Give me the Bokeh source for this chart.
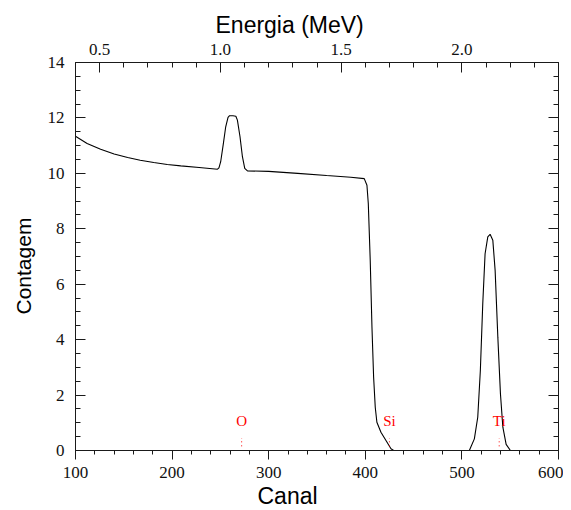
from bokeh.plotting import figure
from bokeh.models import (Range1d, LinearAxis, SingleIntervalTicker, PrintfTickFormatter,
                          CustomJSTickFormatter, Title, ColumnDataSource)
from bokeh.core.properties import value
from bokeh.embed import file_html
from bokeh.resources import INLINE

# ---- data ----
canal = [100, 112, 126, 140, 154, 167, 181, 195, 209, 228, 247, 248.5,
         250.3, 253.1, 255.5, 257.9, 259.5, 263, 266, 267.6, 270.3, 272.8, 275.2, 278,
         300, 330, 360, 385, 398.9, 401.7, 403.1, 405.1, 406.9, 408.6, 410.3, 412,
         416.2, 421.4, 426.6, 429.4, 507.7, 512.9, 516.4, 519.1, 521.6, 524, 526.8,
         529.2, 532, 534.4, 537.2, 539.9, 542.4, 545.8, 550.2, 600]
contagem = [11.34, 11.08, 10.87, 10.70, 10.57, 10.47, 10.39, 10.32, 10.27, 10.21, 10.15, 10.20,
            10.42, 11.08, 11.68, 12.02, 12.08, 12.08, 12.06, 11.92, 11.32, 10.60, 10.18, 10.09,
            10.07, 10.00, 9.92, 9.86, 9.81, 9.57, 8.91, 6.86, 4.45, 2.65, 1.56, 1.02,
            0.66, 0.36, 0.06, 0.0, 0.0, 0.42, 1.20, 2.89, 5.30, 7.10, 7.71,
            7.80, 7.59, 6.50, 4.09, 2.05, 0.84, 0.22, 0.0, 0.0]

elementos = ["O", "Si", "Ti"]
elem_canal = [272, 425, 538.6]
elem_label_y = [1.05, 1.05, 1.05]
elem_mark_y0 = [0.15, 0.15, 0.15]
elem_mark_y1 = [0.45, 0.45, 0.45]

x_start, x_end = 100, 600
y_start, y_end = 0, 14
e_start, e_end = 0.4, 2.4

p = figure(width=563, height=510, output_backend="svg", toolbar_location=None,
           x_range=Range1d(x_start, x_end), y_range=Range1d(y_start, y_end),
           min_border_left=75, min_border_right=5, min_border_top=62, min_border_bottom=60,
           x_axis_location=None, y_axis_location=None)
p.extra_x_ranges = {"energia": Range1d(e_start, e_end)}
p.xgrid.visible = False
p.ygrid.visible = False
p.outline_line_color = None
p.background_fill_color = "white"
p.border_fill_color = "white"

TICK_FONT = "Liberation Serif"
TICK_SIZE = "17px"
AX_COLOR = "#1a1a1a"

def style(ax, tin, tout, mtin, mtout, standoff):
    ax.major_tick_in = tin
    ax.major_tick_out = tout
    ax.minor_tick_in = mtin
    ax.minor_tick_out = mtout
    ax.major_label_standoff = standoff
    ax.major_label_text_font = TICK_FONT
    ax.major_label_text_font_size = TICK_SIZE
    ax.major_label_text_color = "#111111"
    ax.axis_line_color = AX_COLOR
    ax.major_tick_line_color = AX_COLOR
    ax.minor_tick_line_color = AX_COLOR

bottom = LinearAxis(ticker=SingleIntervalTicker(interval=100, num_minor_ticks=5))
style(bottom, 0, 9, 0, 4, 7)
p.add_layout(bottom, "below")

left = LinearAxis(ticker=SingleIntervalTicker(interval=2, num_minor_ticks=4))
style(left, 10, 0, 5, 0, 11)
p.add_layout(left, "left")

top = LinearAxis(x_range_name="energia",
                 ticker=SingleIntervalTicker(interval=0.5, num_minor_ticks=5),
                 formatter=PrintfTickFormatter(format="%.1f"))
style(top, 10, 0, 5, 0, 8)
p.add_layout(top, "above")

right = LinearAxis(ticker=SingleIntervalTicker(interval=2, num_minor_ticks=4),
                   formatter=CustomJSTickFormatter(code="return ''"))
style(right, 10, 0, 5, 0, 0)
right.major_label_text_font_size = "0px"
p.add_layout(right, "right")

p.line(canal, contagem, line_color="black", line_width=1.1)

src = ColumnDataSource(dict(x=elem_canal, y=elem_label_y, t=elementos,
                            y0=elem_mark_y0, y1=elem_mark_y1))
p.segment(x0="x", y0="y0", x1="x", y1="y1", source=src, line_color="red",
          line_width=1, line_dash="1 3")
p.text(x="x", y="y", text="t", source=src, text_color="red",
       text_font=value(TICK_FONT), text_font_size="15px",
       text_align="center", text_baseline="middle")

TITLE_FONT = "Liberation Sans"
t_top = Title(text="Energia (MeV)", align="left", offset=140, standoff=6,
              text_font=TITLE_FONT, text_font_size="23px", text_font_style="normal",
              text_color="black")
p.add_layout(t_top, "above")
t_bottom = Title(text="Canal", align="left", offset=182, standoff=0,
                 text_font=TITLE_FONT, text_font_size="23px", text_font_style="normal",
                 text_color="black")
p.add_layout(t_bottom, "below")
t_left = Title(text="Contagem", align="left", offset=136, standoff=19,
               text_font=TITLE_FONT, text_font_size="21px", text_font_style="normal",
               text_color="black")
p.add_layout(t_left, "left")

open("out.html", "w").write(file_html(p, INLINE))
